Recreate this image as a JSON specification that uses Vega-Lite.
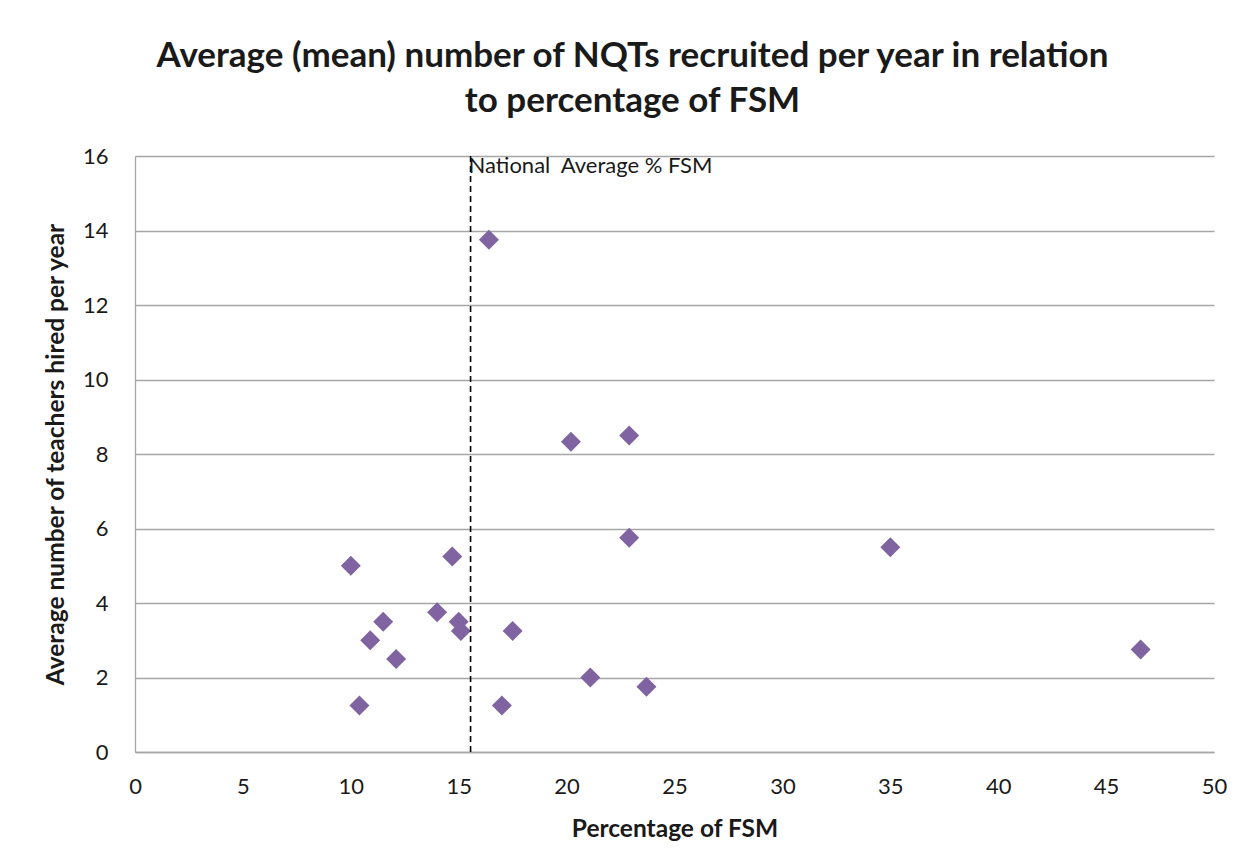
{
  "$schema": "https://vega.github.io/schema/vega-lite/v6.json",
  "width": 1079,
  "height": 596,
  "autosize": {"type": "none"},
  "padding": {"left": 135, "top": 156, "right": 31, "bottom": 116},
  "background": "white",
  "config": {
    "font": "Lato",
    "view": {"stroke": null},
    "axis": {
      "labelFont": "Lato",
      "titleFont": "Lato",
      "labelColor": "#1a1a1a",
      "titleColor": "#1a1a1a",
      "gridColor": "#a6a6a6",
      "gridWidth": 1.3,
      "domainColor": "#a6a6a6",
      "domainWidth": 1.3,
      "ticks": false,
      "labelFontSize": 22,
      "titleFontSize": 24.5,
      "titleFontWeight": "bold"
    }
  },
  "title": {
    "text": ["Average (mean) number of NQTs recruited per year in relation", "to percentage of FSM"],
    "fontSize": 35,
    "fontWeight": "bold",
    "font": "Lato",
    "color": "#1a1a1a",
    "anchor": "middle",
    "dx": -42,
    "lineHeight": 45,
    "offset": 26
  },
  "datasets": {
    "points": [
      {"fsm": 10.0, "nqt": 5.0},
      {"fsm": 10.4, "nqt": 1.25},
      {"fsm": 10.9, "nqt": 3.0},
      {"fsm": 11.5, "nqt": 3.5},
      {"fsm": 12.1, "nqt": 2.5},
      {"fsm": 14.0, "nqt": 3.75},
      {"fsm": 14.7, "nqt": 5.25},
      {"fsm": 15.0, "nqt": 3.5},
      {"fsm": 15.1, "nqt": 3.25},
      {"fsm": 16.4, "nqt": 13.75},
      {"fsm": 17.0, "nqt": 1.25},
      {"fsm": 17.5, "nqt": 3.25},
      {"fsm": 20.2, "nqt": 8.33},
      {"fsm": 21.1, "nqt": 2.0},
      {"fsm": 22.9, "nqt": 8.5},
      {"fsm": 22.9, "nqt": 5.75},
      {"fsm": 23.7, "nqt": 1.75},
      {"fsm": 35.0, "nqt": 5.5},
      {"fsm": 46.6, "nqt": 2.75}
    ],
    "national": [
      {"fsm": 15.55, "label": "National\u00a0 Average % FSM"}
    ]
  },
  "layer": [
    {
      "data": {"name": "points"},
      "mark": {"type": "point", "shape": "diamond", "filled": true, "size": 400, "color": "#8064A2", "opacity": 1},
      "encoding": {
        "x": {
          "field": "fsm", "type": "quantitative",
          "scale": {"domain": [0, 50], "nice": false},
          "axis": {"values": [0,5,10,15,20,25,30,35,40,45,50], "title": "Percentage of FSM", "grid": false, "labelFlush": false, "labelPadding": 24, "titlePadding": 20}
        },
        "y": {
          "field": "nqt", "type": "quantitative",
          "scale": {"domain": [0, 16], "nice": false},
          "axis": {"values": [0,2,4,6,8,10,12,14,16], "title": "Average number of teachers hired per year", "grid": true, "labelFlush": false, "labelPadding": 27, "titlePadding": 14}
        }
      }
    },
    {
      "data": {"name": "national"},
      "mark": {"type": "rule", "color": "#000000", "strokeWidth": 1.6, "strokeDash": [6, 4]},
      "encoding": {
        "x": {"field": "fsm", "type": "quantitative"}
      }
    },
    {
      "data": {"name": "national"},
      "mark": {"type": "text", "align": "left", "baseline": "top", "fontSize": 22, "font": "Lato", "color": "#1a1a1a", "dx": -2, "dy": 0},
      "encoding": {
        "x": {"field": "fsm", "type": "quantitative"},
        "y": {"datum": 16},
        "text": {"field": "label"}
      }
    }
  ]
}
